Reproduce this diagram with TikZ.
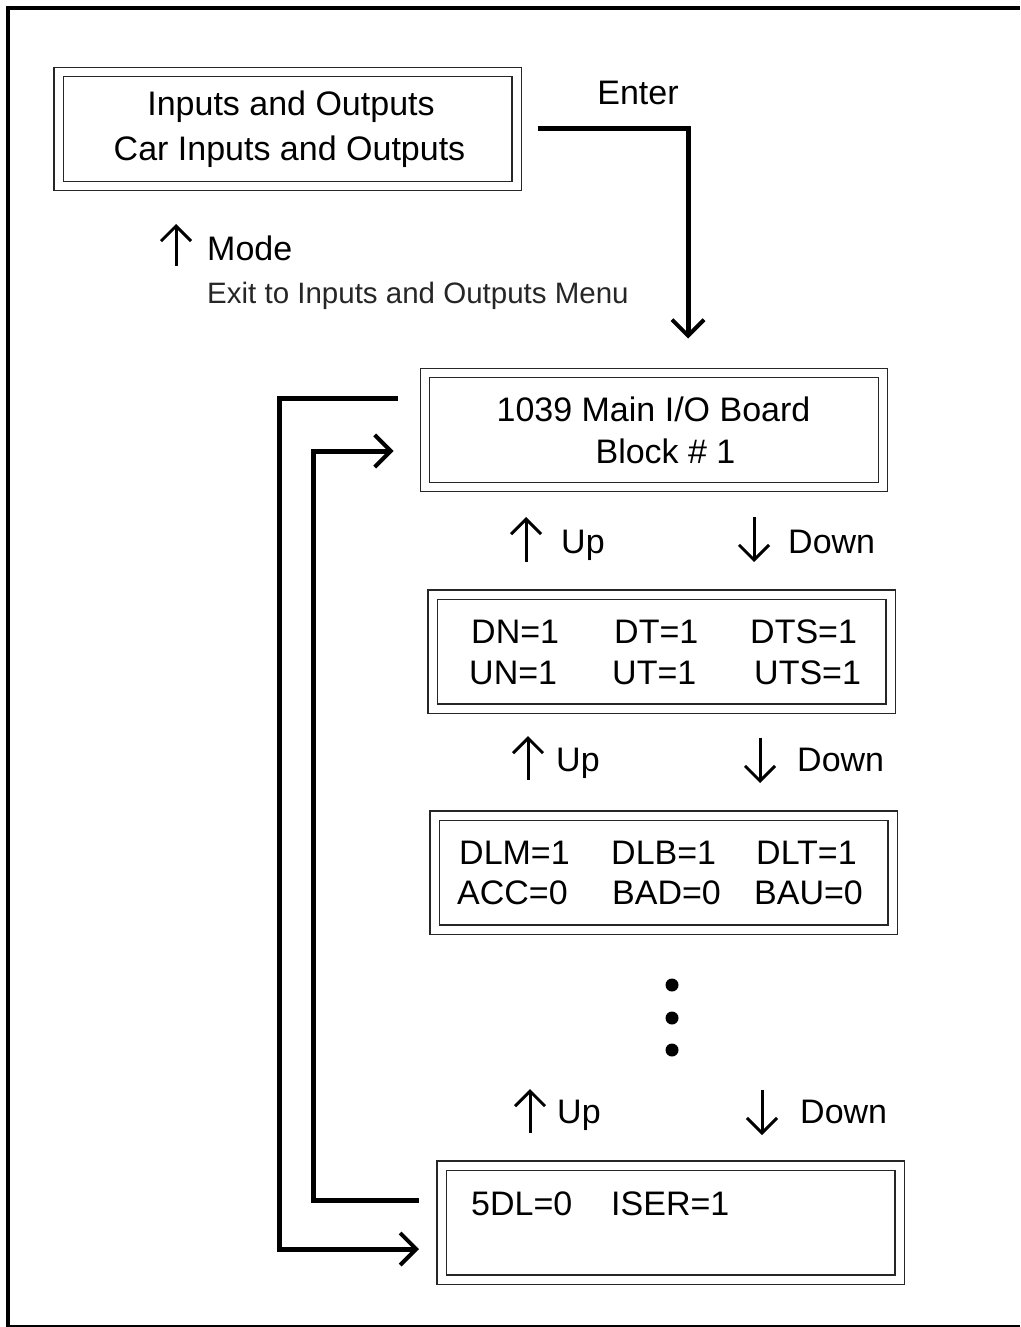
\documentclass[tikz,border=0pt]{standalone}
\usepackage{fontspec}
\setmainfont{Liberation Sans}
\usetikzlibrary{arrows.meta}
\begin{document}
\begin{tikzpicture}[x=1pt,y=-1pt,
  lcdbox/.style={draw=black!85, line width=1.4pt, double=white, double distance=8pt,
    minimum width=458pt, minimum height=114pt, inner sep=0pt, outer sep=0pt},
  lbl/.style={font=\fontsize{34}{40}\selectfont, inner sep=0pt, anchor=base west},
  lblc/.style={font=\fontsize{34}{40}\selectfont, inner sep=0pt, anchor=base},
  small/.style={font=\fontsize{29.5}{36}\selectfont, inner sep=0pt, anchor=base west, text=black!85},
  conn/.style={line width=5pt, -{Straight Barb[length=16pt,width=32pt,line width=4pt]}},
  keyarrow/.style={line width=3pt, -{Straight Barb[length=15pt,width=30pt,line width=3pt]}},
  dot/.style={circle, fill=black, minimum size=13pt, inner sep=0pt},
]
\useasboundingbox (0,0) rectangle (1020,1327);
% frame
\draw[line width=4pt] (8,1327) -- (8,8) -- (1020,8);
\draw[line width=1.2pt] (6,1326) -- (1020,1326);

% boxes
\node[lcdbox] (B1) at (287.5,129) {};
\node[lcdbox] (B2) at (654,430) {};
\node[lcdbox] (B3) at (661.5,651.5) {};
\node[lcdbox] (B4) at (663.5,872.5) {};
\node[lcdbox] (B5) at (670.5,1222.5) {};

% box texts
\node[lblc] (t1a) at (291,116) {Inputs and Outputs};
\node[lblc] (t1b) at (289.5,160) {Car Inputs and Outputs};
\node[lblc] (t2a) at (653.5,421) {1039 Main I/O Board};
\node[lblc] (t2b) at (665.5,463) {Block \# 1};
\node[lbl] (dn) at (471,643) {DN=1};
\node[lbl] (dt) at (614,643) {DT=1};
\node[lbl] (dts) at (750,643) {DTS=1};
\node[lbl] (un) at (469,684) {UN=1};
\node[lbl] (ut) at (612,684) {UT=1};
\node[lbl] (uts) at (754,684) {UTS=1};
\node[lbl] (dlm) at (459,864) {DLM=1};
\node[lbl] (dlb) at (611,864) {DLB=1};
\node[lbl] (dlt) at (756,864) {DLT=1};
\node[lbl] (acc) at (457,904) {ACC=0};
\node[lbl] (bad) at (612,904) {BAD=0};
\node[lbl] (bau) at (754,904) {BAU=0};
\node[lbl] (fdl) at (471,1215) {5DL=0};
\node[lbl] (iser) at (611,1215) {ISER=1};

% labels
\node[lblc] (enter) at (638,105) {Enter};
\node[lbl] (mode) at (207,260) {Mode};
\node[small] (exit) at (207,303) {Exit to Inputs and Outputs Menu};
\draw[keyarrow] (176,266) -- (176,224);

\node[lbl] (up1) at (561,553) {Up};
\node[lbl] (down1) at (788,553) {Down};
\draw[keyarrow] (526,562) -- (526,517);
\draw[keyarrow] (754,517) -- (754,562);

\node[lbl] (up2) at (556,771) {Up};
\node[lbl] (down2) at (797,771) {Down};
\draw[keyarrow] (528,780) -- (528,736);
\draw[keyarrow] (760,738) -- (760,783);

\node[lbl] (up3) at (557,1123) {Up};
\node[lbl] (down3) at (800,1123) {Down};
\draw[keyarrow] (530,1133) -- (530,1089);
\draw[keyarrow] (762,1090) -- (762,1135);

% dots
\node[dot] (d1) at (672,985) {};
\node[dot] (d2) at (672,1018) {};
\node[dot] (d3) at (672,1050) {};

% connectors
\draw[conn] ([xshift=21.5pt]B1.east) -| ([xshift=34pt,yshift=34.5pt]B2.north);
\draw[conn] ([xshift=-27.5pt,yshift=32pt]B2.west) -- ++(-118,0) |- ([xshift=-22.5pt,yshift=-26.5pt]B5.west);
\draw[conn] ([xshift=-22.5pt,yshift=22.5pt]B5.west) -- ++(-105.5,0) |- ([xshift=-31.5pt,yshift=-21pt]B2.west);
\end{tikzpicture}
\end{document}
